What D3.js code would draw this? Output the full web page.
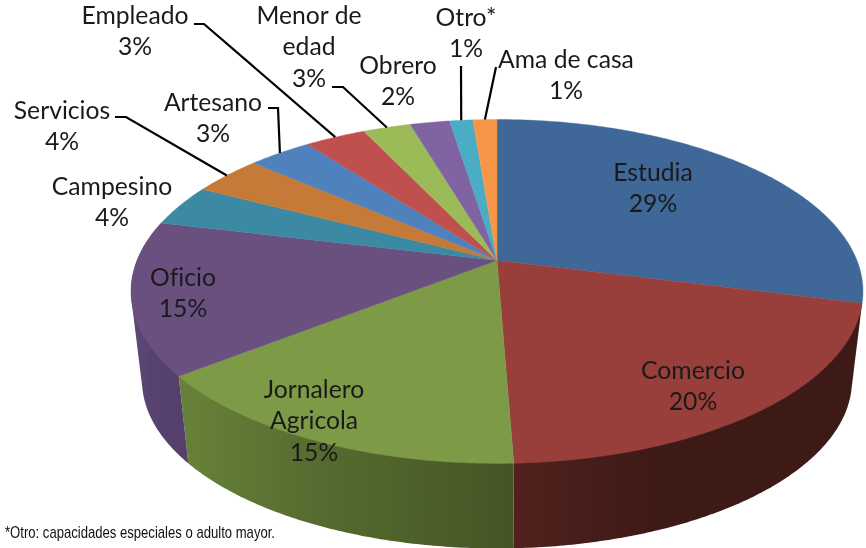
<!DOCTYPE html>
<html><head><meta charset="utf-8">
<script src="https://cdn.jsdelivr.net/npm/d3@7"></script>
<style>html,body{margin:0;padding:0;background:#fff}svg{display:block}</style>
</head><body><svg id="c" width="866" height="548"></svg>
<script>
const categories=["Estudia","Comercio","Jornalero Agricola","Oficio","Campesino","Servicios","Artesano","Empleado","Menor de edad","Obrero","Otro*","Ama de casa"];
const values=[28.97,20.45,15,14.4,3.9,3.7,3.36,3.2,2.52,2.08,1.22,1.26];
const percentLabels=["29%","20%","15%","15%","4%","4%","3%","3%","3%","2%","1%","1%"];
const labelLines=[["Estudia"],["Comercio"],["Jornalero","Agricola"],["Oficio"],["Campesino"],["Servicios"],["Artesano"],["Empleado"],["Menor de","edad"],["Obrero"],["Otro*"],["Ama de casa"]];
const topColors=["#3f6797","#983f3c","#7d9a46","#69507f","#3b89a3","#c57a37","#4f81bd","#c0504d","#9bbb59","#8064a2","#4bacc6","#f79646"];
const sideFrom=["#2f4d71","#52211d","#68823a","#5f4a76","#2c6579","#925a28","#3b618d","#8f3c39","#748c42","#604b79","#388094","#b96f34"];
const sideMid=["#2f4d71","#3e1a17","#566c30","#584370","#2c6579","#925a28","#3b618d","#8f3c39","#748c42","#604b79","#388094","#b96f34"];
const sideTo=["#2f4d71","#3e1a17","#445524","#54406a","#2c6579","#925a28","#3b618d","#8f3c39","#748c42","#604b79","#388094","#b96f34"];
const footnote="*Otro: capacidades especiales o adulto mayor.";

// layout (label centres, first line y) and leader elbows
const labelPos=[[653,172],[693,370],[314,389],[183,277],[112,186],[62,110],[213,102],[135,15],[309,15],[398,65],[466,17],[566,59]];
const leaderPts={5:[[115,117],[126,117]],6:[[268,108],[278,108]],7:[[194,24],[204,24]],8:[[332,87],[343,87]],10:[[461,66]],11:[[496,67]]};

const svg=d3.select("#c");
const defs=svg.append("defs");
const cx=497,cy=260.5,k=0.18,S=166.4,R=360;
const rimCy=291,rimRx=366,rimRy=172;
const baseRx=355,baseRy=168,baseCy=380;
const project=a=>{const x=Math.sin(a),y=-Math.cos(a),d=1-k*y;return [cx+R*x/d,cy+S*y/d];};
const toBase=p=>[cx+baseRx*(p[0]-cx)/rimRx,baseCy+baseRy*(p[1]-rimCy)/rimRy];
const arcs=d3.pie().sort(null).value(d=>d)(values);
const samples=(a,b)=>{const n=Math.max(4,Math.ceil((b-a)/0.01));return d3.range(n+1).map(i=>project(a+(b-a)*i/n));};
const line=d3.line();
const stage=svg.append("g").style("filter","blur(0.45px)");

// side walls of the front slices
const front=d3.range(arcs.length).filter(i=>Math.cos((arcs[i].startAngle+arcs[i].endAngle)/2)<0);
front.forEach(i=>{
  const rim=samples(arcs[i].startAngle,arcs[i].endAngle);
  const xs=d3.extent(rim,p=>p[0]);
  const g=defs.append("linearGradient").attr("id","s"+i).attr("gradientUnits","userSpaceOnUse")
    .attr("x1",xs[0]).attr("x2",xs[1]).attr("y1",0).attr("y2",0);
  g.append("stop").attr("offset",0).attr("stop-color",sideFrom[i]);
  g.append("stop").attr("offset",0.4).attr("stop-color",sideMid[i]);
  g.append("stop").attr("offset",1).attr("stop-color",sideTo[i]);
});
stage.append("g").selectAll("path").data(front).join("path")
  .attr("d",i=>{const rim=samples(arcs[i].startAngle,arcs[i].endAngle);
    return line(d3.polygonHull(rim.concat(rim.map(toBase))))+"Z";})
  .attr("fill",i=>`url(#s${i})`);

// top
stage.append("g").selectAll("path").data(arcs).join("path")
  .attr("d",d=>line([[cx,cy]].concat(samples(d.startAngle,d.endAngle)))+"Z")
  .attr("fill",(d,i)=>topColors[i]).attr("stroke",(d,i)=>topColors[i]).attr("stroke-width",0.4);

// leaders
Object.keys(leaderPts).forEach(key=>{
  const d=arcs[+key];
  const end=project((d.startAngle+d.endAngle)/2);
  stage.append("path").attr("d",line(leaderPts[key].concat([end])))
    .attr("fill","none").attr("stroke","#000").attr("stroke-width",2.2);
});

// labels
const lh=31.5;
categories.forEach((c,i)=>{
  const lines=labelLines[i].concat([percentLabels[i]]);
  stage.append("g").selectAll("text").data(lines).join("text")
    .attr("x",labelPos[i][0]).attr("y",(t,j)=>labelPos[i][1]+j*lh)
    .attr("dy","0.35em").attr("text-anchor","middle")
    .attr("font-family","Lato, 'Open Sans', sans-serif").attr("font-size",24.7).attr("fill","#1a1a1a")
    .style("font-variant-ligatures","none")
    .text(t=>t);
});
stage.append("text").attr("x",5).attr("y",538)
  .attr("font-family","'Liberation Sans', Arial, sans-serif").attr("font-size",17).attr("fill","#111")
  .attr("textLength",270).attr("lengthAdjust","spacingAndGlyphs").text(footnote);
</script></body></html>
